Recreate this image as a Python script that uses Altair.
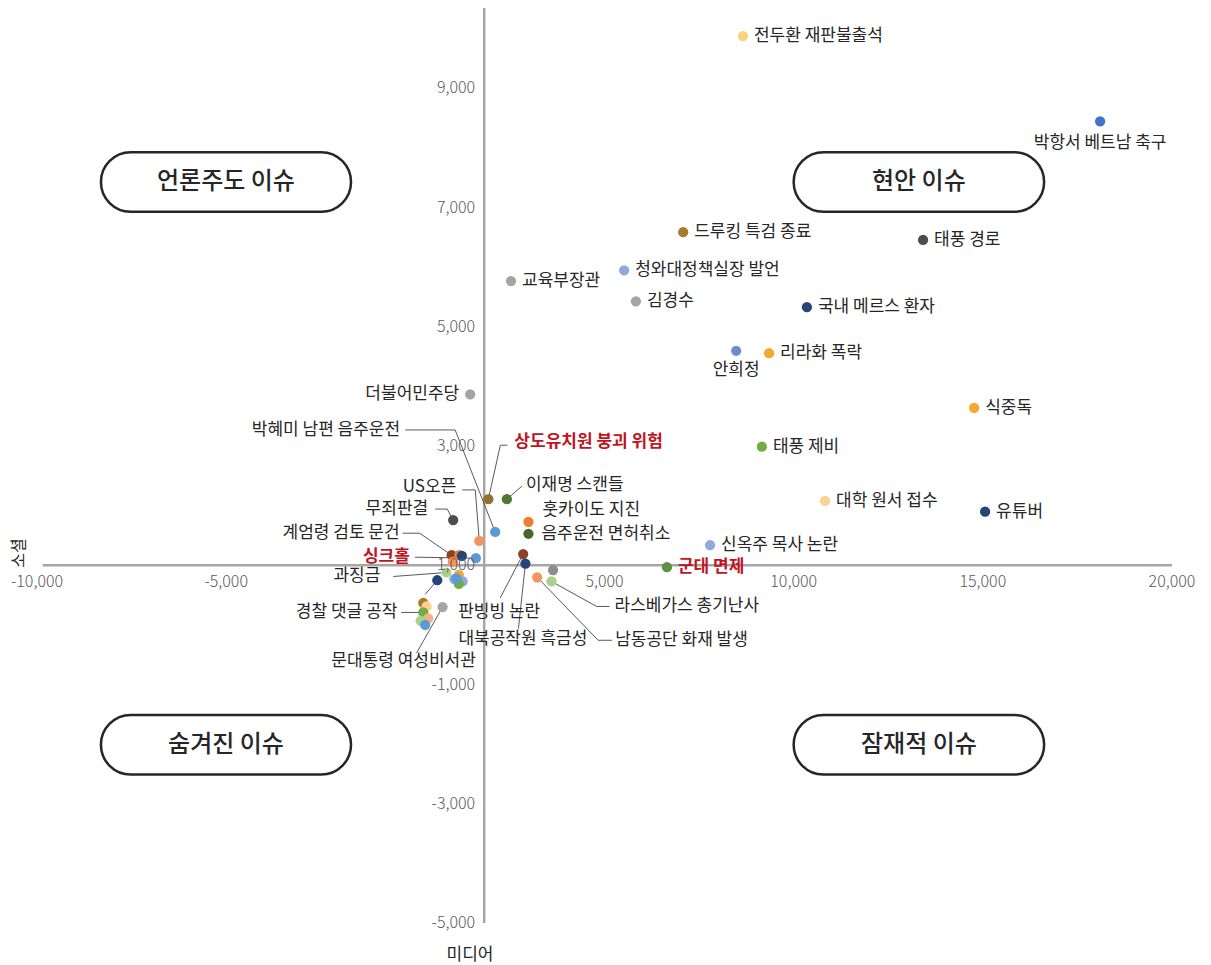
import altair as alt
import pandas as pd

# ---------------- data ----------------
labels = ["전두환 재판불출석", "박항서 베트남 축구", "드루킹 특검 종료", "태풍 경로", "청와대정책실장 발언",
          "교육부장관", "김경수", "국내 메르스 환자", "안희정", "리라화 폭락",
          "더불어민주당", "식중독", "태풍 제비", "대학 원서 접수", "유튜버",
          "신옥주 목사 논란", "군대 면제", "상도유치원 붕괴 위험", "이재명 스캔들", "훗카이도 지진",
          "음주운전 면허취소", "박혜미 남편 음주운전", "US오픈", "무죄판결", "계엄령 검토 문건",
          "", "", "싱크홀", "", "판빙빙 논란",
          "대북공작원 흑금성", "", "남동공단 화재 발생", "라스베가스 총기난사", "과징금",
          "", "", "", "", "",
          "", "", "", "경찰 댓글 공작", "문대통령 여성비서관",
          "", "", ""]
media = [8660, 18100, 7080, 13420, 5520,
         2530, 5830, 10350, 8480, 9350,
         1450, 14770, 9160, 10830, 15060,
         7790, 6650, 1930, 2420, 2990,
         2990, 2110, 1690, 1000, 960,
         1160, 1230, 1600, 990, 2850,
         2910, 3640, 3220, 3600, 820,
         580, 1150, 1030, 1250, 1150,
         1090, 210, 300, 210, 720,
         340, 140, 260]
social = [9880, 8450, 6590, 6460, 5950,
          5770, 5430, 5330, 4600, 4560,
          3870, 3640, 2990, 2080, 1900,
          1340, 970, 2110, 2110, 1730,
          1530, 1560, 1410, 1760, 1170,
          1170, 1160, 1120, 1060, 1190,
          1030, 920, 800, 730, 880,
          750, 840, 770, 730, 690,
          780, 370, 310, 210, 300,
          110, 70, 0]
colors = ["#F8D27E", "#4472C4", "#A57C29", "#4D4D4D", "#8EA9DB",
          "#A5A5A5", "#A5A5A5", "#264478", "#698ED0", "#F5A82E",
          "#A5A5A5", "#F5A82E", "#70AD47", "#FAD48E", "#264478",
          "#8EA9DB", "#5E9140", "#93712F", "#4E7A30", "#ED7D31",
          "#43682B", "#5B9BD5", "#F4945E", "#4D4D4D", "#8B4226",
          "#ED7D31", "#264478", "#5B9BD5", "#F4945E", "#8B4226",
          "#264478", "#8C8C8C", "#F4945E", "#A9D18E", "#A9D18E",
          "#264478", "#F5A82E", "#8EA9DB", "#8EA9DB", "#70AD47",
          "#5B9BD5", "#A57C29", "#FAD48E", "#70AD47", "#A5A5A5",
          "#F4B183", "#A9D18E", "#5B9BD5"]
highlight = ["상도유치원 붕괴 위험", "싱크홀", "군대 면제"]

x_ticks = [-10000, -5000, 5000, 10000, 15000, 20000]
y_ticks = [9000, 7000, 5000, 3000, 1000, -1000, -3000, -5000]

quadrants = ["언론주도 이슈", "현안 이슈", "숨겨진 이슈", "잠재적 이슈"]

# ---------------- layout ----------------
W, H = 1135, 915
XD = [-10000, 20000]
YD = [-5000, 10350]
KX = (XD[1] - XD[0]) / W
KY = (YD[1] - YD[0]) / H
X_CROSS = 1820   # where the vertical axis crosses
Y_CROSS = 1000   # where the horizontal axis crosses

# label offsets in px (dx, dy, align); default: right of the point
label_pos = {
    "박항서 베트남 축구": (0, 22, "center"), "안희정": (0, 19, "center"),
    "더불어민주당": (-11, 0, "right"),
    "상도유치원 붕괴 위험": (26, -57, "left"), "이재명 스캔들": (19, -14, "left"),
    "훗카이도 지진": (14, -12, "left"), "음주운전 면허취소": (13, 0, "left"),
    "박혜미 남편 음주운전": (-95, -102, "right"), "US오픈": (-23, -54, "right"),
    "무죄판결": (-25, -11, "right"), "계엄령 검토 문건": (-52, -22, "right"),
    "싱크홀": (-66, -1, "right"), "과징금": (-66, 4, "right"),
    "경찰 댓글 공작": (-26, 0, "right"), "문대통령 여성비서관": (-39, 54, "center"),
    "판빙빙 논란": (-65, 58, "left"), "대북공작원 흑금성": (-67, 75, "left"),
    "라스베가스 총기난사": (63, 25, "left"), "남동공단 화재 발생": (78, 63, "left"),
}
# leader bends in px relative to point (index -> list)
leaders = {
    17: [(12, -54), (19, -54)], 18: [(15, -13)], 21: [(-40, -102), (-90, -102)],
    22: [(-4, -51), (-17, -51)], 23: [(-6, -11), (-18, -11)], 24: [(-32, -22), (-49, -22)],
    27: [(-61, -1)], 34: [(-53, 4)], 43: [(-22, 0)], 44: [(-26, 46)],
    29: [(-23, 44)], 30: [(-7, 65)], 33: [(45, 25), (58, 25)], 32: [(61, 63), (75, 63)],
    35: [(-12, 14)],
}
boxes = [(-8310, -1700, 7930, 6930), (10000, 16620, 7930, 6930),
         (-8310, -1700, -1510, -2510), (10000, 16620, -1510, -2510)]

FONT = "Noto Sans CJK KR"
TXT = "#262626"

pids = [f"p{i:02d}" for i in range(len(media))]
pts = pd.DataFrame({"pid": pids, "x": media, "y": social, "label": labels})

xs = alt.Scale(domain=XD, nice=False, zero=False)
ys = alt.Scale(domain=YD, nice=False, zero=False)


def X(f="x"):
    return alt.X(f"{f}:Q", scale=xs, axis=None)


def Y(f="y"):
    return alt.Y(f"{f}:Q", scale=ys, axis=None)


# axes lines
axes_df = pd.DataFrame({"x": [X_CROSS, -9850], "x2": [X_CROSS, XD[1]],
                        "y": [YD[0], Y_CROSS], "y2": [YD[1], Y_CROSS]})
axes = alt.Chart(axes_df).mark_rule(color="#A6A6A6", strokeWidth=2.5).encode(
    x=X(), x2="x2:Q", y=Y(), y2="y2:Q")

# quadrant boxes
box_df = pd.DataFrame({"x": [b[0] for b in boxes], "x2": [b[1] for b in boxes],
                       "y": [b[2] for b in boxes], "y2": [b[3] for b in boxes],
                       "t": quadrants,
                       "tx": [(b[0] + b[1]) / 2 for b in boxes],
                       "ty": [(b[2] + b[3]) / 2 for b in boxes]})
box = alt.Chart(box_df).mark_rect(cornerRadius=30, fill="white", stroke=TXT, strokeWidth=2.5).encode(
    x=X(), x2="x2:Q", y=Y(), y2="y2:Q")
box_text = alt.Chart(box_df).mark_text(font=FONT, fontSize=24, fontWeight=500, color=TXT,
                                       baseline="middle", align="center").encode(
    x=X("tx"), y=Y("ty"), text="t:N")

# leader lines
rows = []
for i, bends in leaders.items():
    rows.append({"pid": pids[i], "o": 0, "x": media[i], "y": social[i]})
    for k, (dx, dy) in enumerate(bends):
        rows.append({"pid": pids[i], "o": k + 1, "x": media[i] + dx * KX, "y": social[i] - dy * KY})
lead = alt.Chart(pd.DataFrame(rows)).mark_line(color="#595959", strokeWidth=1).encode(
    x=X(), y=Y(), detail="pid:N", order="o:Q")

# points
points = alt.Chart(pts).mark_circle(size=105, opacity=1).encode(
    x=X(), y=Y(),
    color=alt.Color("pid:N", scale=alt.Scale(domain=pids, range=colors), legend=None))

# labels
lab_rows = []
for i, lab in enumerate(labels):
    if not lab:
        continue
    dx, dy, al = label_pos.get(lab, (11, 0, "left"))
    lab_rows.append({"label": lab, "x": media[i] + dx * KX, "y": social[i] - dy * KY,
                     "align": al, "red": lab in highlight})
lab_df = pd.DataFrame(lab_rows)
text_layers = []
for al in ["left", "right", "center"]:
    for red in [False, True]:
        sub = lab_df[(lab_df["align"] == al) & (lab_df["red"] == red)]
        if len(sub) == 0:
            continue
        text_layers.append(alt.Chart(sub).mark_text(
            font=FONT, fontSize=17, align=al, baseline="middle",
            color="#C0141E" if red else TXT, fontWeight=700 if red else 400).encode(
            x=X(), y=Y(), text="label:N"))

# tick labels
xt = pd.DataFrame({"x": x_ticks, "y": [Y_CROSS] * len(x_ticks),
                   "t": [f"{v:,}" for v in x_ticks]})
yt = pd.DataFrame({"x": [X_CROSS] * len(y_ticks), "y": y_ticks,
                   "t": [f"{v:,}" for v in y_ticks]})
xtick = alt.Chart(xt).mark_text(font=FONT, fontSize=16, fontWeight=300, color="#595959",
                                align="center", baseline="middle", dy=17).encode(
    x=X(), y=Y(), text="t:N")
ytick = alt.Chart(yt).mark_text(font=FONT, fontSize=16, fontWeight=300, color="#595959",
                                align="right", baseline="middle", dx=-9).encode(
    x=X(), y=Y(), text="t:N")

# axis titles
tdf = pd.DataFrame({"t": ["미디어"]})
xtitle = alt.Chart(tdf).mark_text(font=FONT, fontSize=17, color=TXT, align="center",
                                  baseline="middle").encode(
    x=alt.value(433), y=alt.value(947), text="t:N")
tdf2 = pd.DataFrame({"t": ["소셜"]})
ytitle = alt.Chart(tdf2).mark_text(font=FONT, fontSize=16, color=TXT, align="center",
                                   baseline="middle", angle=270).encode(
    x=alt.value(-18), y=alt.value(545), text="t:N")

chart = alt.layer(axes, box, lead, points, *text_layers, box_text, xtick, ytick, xtitle, ytitle).properties(
    width=W, height=H,
    background="white",
    autosize=alt.AutoSizeParams(type="none"),
    padding={"left": 29, "top": 0, "right": 30, "bottom": 45},
).configure_view(strokeWidth=0)

chart.save("out.html", embed_options={"renderer": "svg", "actions": False})
